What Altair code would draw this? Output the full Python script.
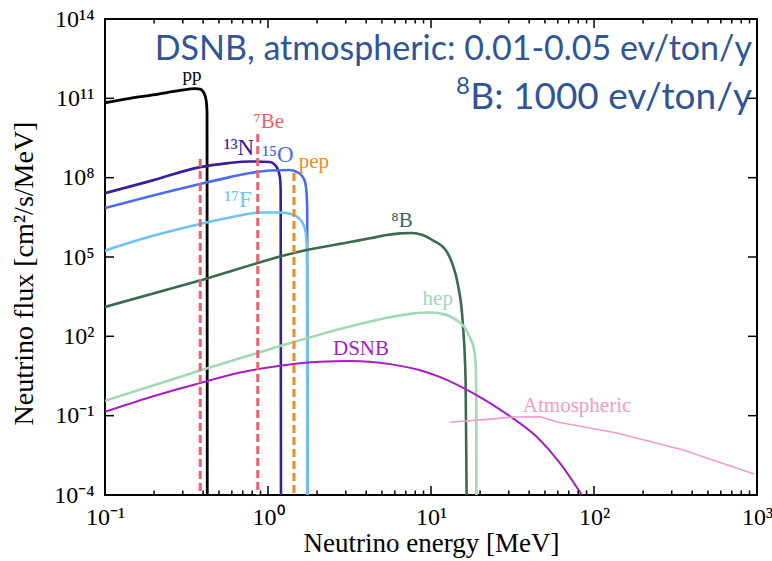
import altair as alt
import pandas as pd

# ---------------- data ----------------
pp_E = [0.1, 0.142, 0.203, 0.288, 0.357, 0.383, 0.405, 0.417, 0.4227, 0.4242]
pp_F = [6.8e10, 1.0e11, 1.38e11, 2.0e11, 2.34e11, 2.24e11, 1.58e11, 8.7e10, 3.0e10, 1e-5]

n13_E = [0.1, 0.189, 0.383, 0.57, 0.776, 1.03, 1.104, 1.152, 1.185, 1.196, 1.2017]
n13_F = [2.6e7, 7.4e7, 2.5e8, 3.55e8, 4.1e8, 3.9e8, 3.0e8, 1.95e8, 9.8e7, 3.4e7, 1e-5]

o15_E = [0.1, 0.189, 0.383, 0.585, 0.776, 1.03, 1.36, 1.506, 1.617, 1.687, 1.722, 1.74, 1.747]
o15_F = [7.1e6, 2.0e7, 5.8e7, 1.05e8, 1.5e8, 1.86e8, 1.95e8, 1.62e8, 1.15e8, 6.9e7, 2.9e7, 6.0e6, 1e-5]

f17_E = [0.1, 0.189, 0.383, 0.585, 0.893, 1.186, 1.403, 1.55, 1.64, 1.70, 1.734, 1.747]
f17_F = [1.74e5, 5.9e5, 1.78e6, 3.1e6, 4.8e6, 4.8e6, 4.1e6, 2.9e6, 1.78e6, 8.7e5, 1.8e5, 1e-5]

b8_E = [0.1, 0.423, 1.57, 3.19, 4.23, 5.22, 6.46, 7.65, 8.81, 10.3, 12.5, 13.6, 14.6, 15.7, 16.3, 16.6]
b8_F = [1.29e3, 1.55e4, 1.62e5, 3.7e5, 5.1e5, 6.6e5, 7.8e5, 8.1e5, 6.9e5, 4.2e5, 1.58e5, 5.0e4,
        9.5e3, 270, 2.2, 1e-5]

hep_E = [0.1, 0.383, 1.186, 1.73, 2.77, 4.23, 5.6, 7.43, 9.86, 12.2, 14.0, 16.2, 17.3, 18.4,
         18.8, 18.95, 19.0]
hep_F = [0.363, 5.13, 42.7, 84.1, 189, 363, 525, 708, 794, 676, 447, 204, 93, 30, 8.1, 0.4, 1e-5]

dsnb_E = [0.1, 0.189, 0.383, 0.673, 1.186, 2.08, 3.19, 5.6, 8.57, 11.4, 18.1, 29.2, 44.7, 61.8, 84.3]
dsnb_F = [0.141, 0.50, 1.70, 4.27, 7.76, 11.0, 11.7, 8.9, 5.25, 2.88, 0.71, 0.115, 0.0155,
          1.62e-3, 1e-4]

atm_E = [13.1, 23.0, 31.8, 46.7, 59.3, 138, 352, 960]
atm_F = [0.056, 0.074, 0.089, 0.091, 0.058, 0.022, 0.0050, 6.2e-4]

# mono-energetic lines: energy, top of the dashed line
line_names = ["7Be_1", "7Be_2", "pep"]
line_E = [0.384, 0.865, 1.444]
line_top = [5.1e8, 4.5e9, 1.5e8]

# label texts and anchor points (energy, flux)
label_text = ["pp", "⁷Be", "¹³N", "¹⁵O", "pep", "¹⁷F", "⁸B", "hep", "DSNB", "Atmospheric"]
label_E = [0.342, 1.01, 0.664, 1.15, 1.91, 0.655, 6.64, 11.0, 3.72, 78.7]
label_F = [4.5e11, 7.6e9, 7.2e8, 3.9e8, 2.3e8, 7.8e6, 1.35e6, 1.5e3, 19.5, 0.138]

x_major = [0.1, 1, 10, 100, 1000]
x_minor = [m * 10.0 ** k for k in range(-1, 3) for m in range(2, 10)]
y_major = [1e-4, 1e-1, 1e2, 1e5, 1e8, 1e11, 1e14]

# ---------------- styles ----------------
curves = [
    ("pp", pp_E, pp_F, "#000000", 2.8, "monotone"),
    ("13N", n13_E, n13_F, "#3a1d9c", 2.6, "monotone"),
    ("15O", o15_E, o15_F, "#4c6cf0", 2.6, "monotone"),
    ("17F", f17_E, f17_F, "#6cc4f0", 2.6, "monotone"),
    ("8B", b8_E, b8_F, "#3c6a4e", 2.6, "monotone"),
    ("hep", hep_E, hep_F, "#a2d8b6", 2.6, "monotone"),
    ("DSNB", dsnb_E, dsnb_F, "#a71cc4", 2.0, "monotone"),
    ("Atm", atm_E, atm_F, "#f49ac8", 1.6, "linear"),
]
line_colors = ["#f0606a", "#f0606a", "#f08a24"]
label_colors = ["#000000", "#f0606a", "#3a1d9c", "#4c6cf0", "#f08a24", "#6cc4f0",
                "#3c6a4e", "#a2d8b6", "#a71cc4", "#f49ac8"]
label_sizes = [19, 21, 23, 23, 21, 23, 21, 21, 21, 21]

W, H = 652, 476
SERIF = "Liberation Serif"

xscale = alt.Scale(type="log", domain=[0.1, 1000], nice=False)
yscale = alt.Scale(type="log", domain=[1e-4, 1e14], nice=False)

E = "round(log(datum.value)/LN10)"
expr = (f"{E} == -4 ? '10⁻⁴' : {E} == -1 ? '10⁻¹' : {E} == 0 ? '10⁰' : {E} == 1 ? '10¹' : "
        f"{E} == 2 ? '10²' : {E} == 3 ? '10³' : {E} == 5 ? '10⁵' : {E} == 8 ? '10⁸' : "
        f"{E} == 11 ? '10¹¹' : '10¹⁴'")

xaxis = alt.Axis(values=x_major, labelExpr=expr, tickSize=0, domain=False, grid=False,
                 labelFont=SERIF, labelFontSize=24, labelColor="black", labelPadding=29,
                 labelBaseline="alphabetic", labelFlush=False, labelOverlap=False,
                 title="Neutrino energy [MeV]", titleFont=SERIF, titleFontSize=27,
                 titleFontWeight="normal", titleColor="black", titleX=326, titleY=56,
                 titleAlign="center", titleBaseline="alphabetic")
yaxis = alt.Axis(values=y_major, labelExpr=expr, tickSize=0, domain=False, grid=False,
                 labelFont=SERIF, labelFontSize=24, labelColor="black", labelPadding=11,
                 labelBaseline="middle", labelFlush=False, labelOverlap=False,
                 title="Neutrino flux [cm²/s/MeV]", titleFont=SERIF, titleFontSize=28,
                 titleFontWeight="normal", titleColor="black", titleX=-73, titleY=254,
                 titleAngle=270, titleAlign="center", titleBaseline="alphabetic")

X = alt.X("E:Q", scale=xscale, axis=xaxis)
Y = alt.Y("flux:Q", scale=yscale, axis=yaxis)

layers = []
for name, e, f, col, sw, interp in curves:
    d = pd.DataFrame({"E": e, "flux": f, "i": list(range(len(e)))})
    layers.append(alt.Chart(d).mark_line(color=col, strokeWidth=sw, interpolate=interp, clip=True)
                  .encode(x=X, y=Y, order="i:Q"))

for n, e, t, col in zip(line_names, line_E, line_top, line_colors):
    d = pd.DataFrame({"E": [e], "flux": [t], "flux2": [1e-4]})
    layers.append(alt.Chart(d).mark_rule(color=col, strokeWidth=3, strokeDash=[8, 4], clip=True)
                  .encode(x=X, y=Y, y2="flux2:Q"))

for t, e, f, col, sz in zip(label_text, label_E, label_F, label_colors, label_sizes):
    d = pd.DataFrame({"E": [e], "flux": [f], "t": [t]})
    layers.append(alt.Chart(d).mark_text(color=col, font=SERIF, fontSize=sz, align="center",
                                         baseline="alphabetic")
                  .encode(x=X, y=Y, text="t:N"))

# inward ticks
dxM = pd.DataFrame({"E": x_major})
dxm = pd.DataFrame({"E": x_minor})
dyM = pd.DataFrame({"flux": y_major})
tick = dict(color="black", strokeWidth=1.5)
layers += [
    alt.Chart(dxM).mark_rule(**tick).encode(x=X, y=alt.value(H), y2=alt.value(H - 9)),
    alt.Chart(dxM).mark_rule(**tick).encode(x=X, y=alt.value(0), y2=alt.value(9)),
    alt.Chart(dxm).mark_rule(**tick).encode(x=X, y=alt.value(H), y2=alt.value(H - 4.5)),
    alt.Chart(dxm).mark_rule(**tick).encode(x=X, y=alt.value(0), y2=alt.value(4.5)),
    alt.Chart(dyM).mark_rule(**tick).encode(y=Y, x=alt.value(0), x2=alt.value(9)),
    alt.Chart(dyM).mark_rule(**tick).encode(y=Y, x=alt.value(W), x2=alt.value(W - 9)),
]

# blue overlay text
note1 = pd.DataFrame({"t": ["DSNB, atmospheric: 0.01-0.05 ev/ton/y"]})
note2 = pd.DataFrame({"t": ["B: 1000 ev/ton/y"]})
note2s = pd.DataFrame({"t": ["8"]})
blue = dict(color="#2f5597", font="Lato", align="right", baseline="alphabetic")
layers += [
    alt.Chart(note1).mark_text(fontSize=34, **blue).encode(x=alt.value(647), y=alt.value(41), text="t:N"),
    alt.Chart(note2).mark_text(fontSize=37, **blue).encode(x=alt.value(647), y=alt.value(90), text="t:N"),
    alt.Chart(note2s).mark_text(fontSize=24, **blue).encode(x=alt.value(365), y=alt.value(75), text="t:N"),
]

chart = alt.layer(*layers).properties(
    width=W, height=H,
    autosize=alt.AutoSizeParams(type="none"),
    padding={"left": 105, "top": 19, "right": 15, "bottom": 66},
    background="white",
).configure_view(stroke="black", strokeWidth=2)

chart.save("out.html", embed_options={"renderer": "svg", "actions": False})
